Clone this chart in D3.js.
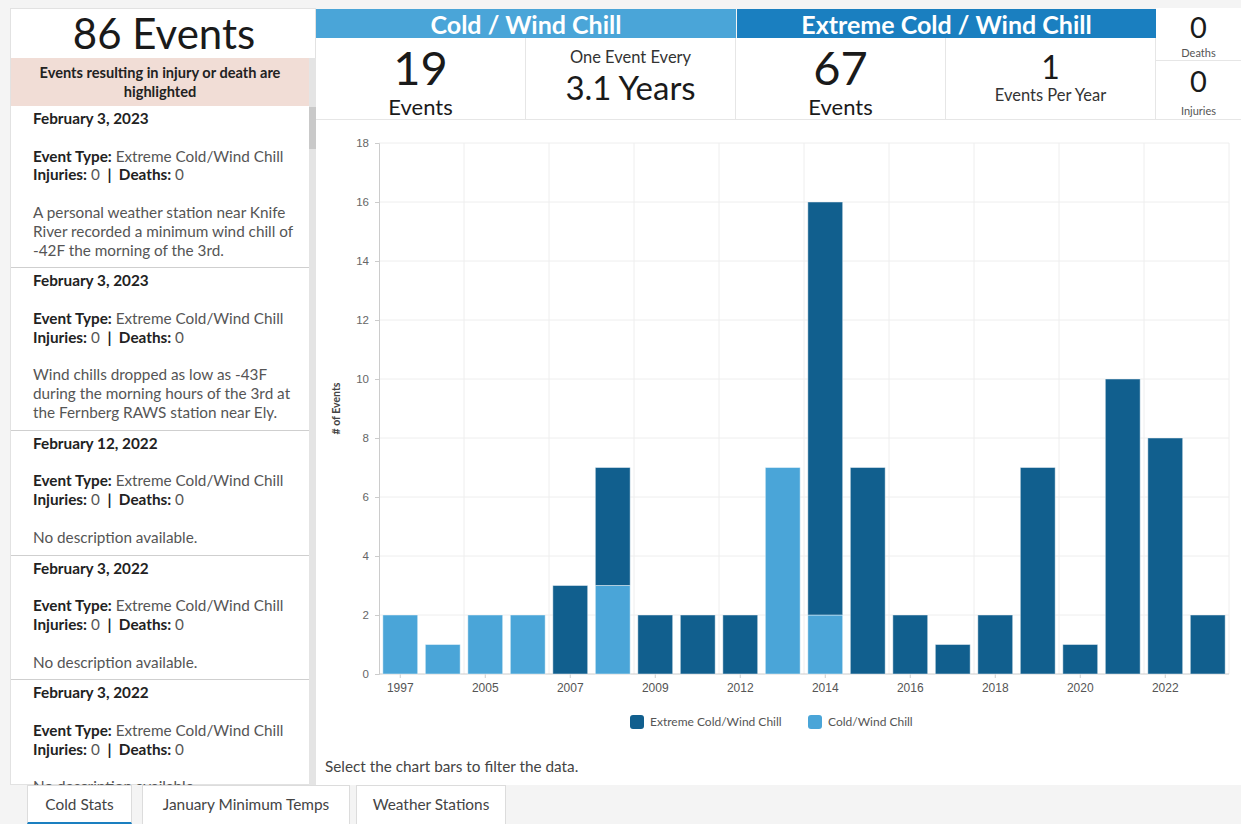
<!DOCTYPE html>
<html>
<head>
<meta charset="utf-8">
<script src="https://cdn.jsdelivr.net/npm/d3@7"></script>
<style>
  body { margin: 0; width: 1241px; height: 824px; background: #f4f4f4; font-family: Lato, "Open Sans", sans-serif; overflow: hidden; position: relative; color: #1a1a1a; }
  .abs { position: absolute; box-sizing: border-box; }
  .left { left: 10px; top: 8px; width: 306px; height: 777px; background: #fff; border: 1px solid #e2e2e2; }
  .total { left: 0; top: 0; width: 306px; height: 49px; text-align: center; font-size: 42px; line-height: 52px; margin-top: -2px; }
  .note { left: 0; top: 49px; width: 298px; height: 48px; background: #f1ddd6; text-align: center; font-size: 14.6px; font-weight: bold; line-height: 19px; padding-top: 5px; color: #222; }
  .sb { left: 298px; top: 49px; width: 8px; height: 728px; background: #e4e4e4; }
  .thumb { left: 298px; top: 98px; width: 8px; height: 42px; background: #c9c9c9; }
  .list { left: 0; top: 97px; width: 298px; height: 680px; overflow: hidden; }
  .item { border-bottom: 1px solid #cfcfcf; padding: 3px 6px 8px 22px; font-size: 15.3px; line-height: 18.8px; color: #555; }
  .item b { color: #222; }
  .tabs { left: 0; top: 785px; width: 1241px; height: 39px; background: #f4f4f4; }
  .tab { top: 0; height: 39px; background: #fff; border: 1px solid #dcdcdc; border-bottom: none; text-align: center; font-size: 15.4px; line-height: 37px; color: #444; }
  .hdr { top: 9px; height: 29px; color: #fff; font-weight: bold; font-size: 25px; text-align: center; line-height: 30px; }
  .cell { top: 38px; height: 82px; background: #fff; border-right: 1px solid #e6e6e6; border-bottom: 1px solid #e6e6e6; text-align: center; }
</style>
</head>
<body>
<div id="page"></div>
<script>
// chart data
const years = ['1997', '2001', '2005', '2006', '2007', '2008', '2009', '2011', '2012', '2013',
  '2014', '2015', '2016', '2017', '2018', '2019', '2020', '2021', '2022', '2023'];
const coldWindChill = [2, 1, 2, 2, 0, 3, 0, 0, 0, 7, 2, 0, 0, 0, 0, 0, 0, 0, 0, 0];
const extremeColdWindChill = [0, 0, 0, 0, 3, 4, 2, 2, 2, 0, 14, 7, 2, 1, 2, 7, 1, 10, 8, 2];
const seriesNames = ['Extreme Cold/Wind Chill', 'Cold/Wind Chill'];
const yTicks = [0, 2, 4, 6, 8, 10, 12, 14, 16, 18];

// event list
const eventDates = ['February 3, 2023', 'February 3, 2023', 'February 12, 2022', 'February 3, 2022', 'February 3, 2022'];
const eventDescriptions = [
  'A personal weather station near Knife River recorded a minimum wind chill of -42F the morning of the 3rd.',
  'Wind chills dropped as low as -43F during the morning hours of the 3rd at the Fernberg RAWS station near Ely.',
  'No description available.',
  'No description available.',
  'No description available.'
];
const tabNames = ['Cold Stats', 'January Minimum Temps', 'Weather Stations'];

const colors = { extreme: '#115f8e', cold: '#4aa5d8', hdrCold: '#4aa5d8', hdrExtreme: '#1a7fc0' };

const page = d3.select('#page');

//======== left panel ========//
const left = page.append('div').attr('class', 'abs left');
left.append('div').attr('class', 'abs total').text('86 Events');
left.append('div').attr('class', 'abs note').html('Events resulting in injury or death are<br>highlighted');
left.append('div').attr('class', 'abs sb');
left.append('div').attr('class', 'abs thumb');
left.append('div').attr('class', 'abs list')
  .selectAll('div')
  .data(eventDates)
  .join('div')
  .attr('class', 'item')
  .html((d, i) => `<b>${d}</b><br><br><b>Event Type:</b> Extreme Cold/Wind Chill<br>`
    + `<b>Injuries:</b> 0 <b>&nbsp;|&nbsp; Deaths:</b> 0<br><br>${eventDescriptions[i]}`);

//======== tabs ========//
const tabs = page.append('div').attr('class', 'abs tabs');
const tabX = [27, 142, 356];
const tabW = [105, 208, 150];
tabs.selectAll('div')
  .data(tabNames)
  .join('div')
  .attr('class', 'abs tab')
  .style('left', (d, i) => tabX[i] + 'px')
  .style('width', (d, i) => tabW[i] + 'px')
  .style('border-bottom', (d, i) => i === 0 ? '2px solid #1a7fc0' : 'none')
  .text(d => d);

//======== header stats ========//
page.append('div').attr('class', 'abs hdr').style('left', '316px').style('width', '420px')
  .style('background', colors.hdrCold).text('Cold / Wind Chill');
page.append('div').attr('class', 'abs hdr').style('left', '737px').style('width', '419px')
  .style('background', colors.hdrExtreme).text('Extreme Cold / Wind Chill');

const cells = [
  { x: 316, w: 210, html: '<div style="font-size:47px;line-height:42px;margin-top:8px">19</div><div style="font-size:22px;line-height:24px;margin-top:7px">Events</div>' },
  { x: 526, w: 210, html: '<div style="font-size:16.5px;color:#333;line-height:18px;margin-top:10px">One Event Every</div><div style="font-size:33px;line-height:36px;margin-top:3px">3.1 Years</div>' },
  { x: 736, w: 210, html: '<div style="font-size:47px;line-height:42px;margin-top:8px">67</div><div style="font-size:22px;line-height:24px;margin-top:7px">Events</div>' },
  { x: 946, w: 210, html: '<div style="font-size:32px;line-height:34px;margin-top:12px">1</div><div style="font-size:16.5px;color:#333;line-height:18px;margin-top:2px">Events Per Year</div>' }
];
page.selectAll('div.cell')
  .data(cells)
  .join('div')
  .attr('class', 'abs cell')
  .style('left', d => d.x + 'px')
  .style('width', d => d.w + 'px')
  .html(d => d.html);

const side = page.append('div').attr('class', 'abs')
  .style('left', '1156px').style('top', '8px').style('width', '85px').style('height', '112px')
  .style('background', '#fff').style('border-bottom', '1px solid #e6e6e6');
side.append('div').attr('class', 'abs').style('left', '0').style('top', '0').style('width', '85px').style('height', '53px')
  .style('border-bottom', '1px solid #e6e6e6').style('text-align', 'center')
  .html('<div style="font-size:29px;line-height:32px;margin-top:3px">0</div><div style="font-size:11px;color:#555;line-height:12px;margin-top:4px">Deaths</div>');
side.append('div').attr('class', 'abs').style('left', '0').style('top', '53px').style('width', '85px').style('height', '58px')
  .style('text-align', 'center')
  .html('<div style="font-size:29px;line-height:32px;margin-top:4px">0</div><div style="font-size:11px;color:#555;line-height:12px;margin-top:8px">Injuries</div>');

//======== chart ========//
const W = 925, H = 665;
const svg = page.append('svg').attr('class', 'abs')
  .style('left', '316px').style('top', '120px')
  .attr('width', W).attr('height', H)
  .style('background', '#fff')
  .style('font-family', 'Lato, "Open Sans", sans-serif');

const m = { left: 63, right: 12, top: 23, bottom: 111 };

const x = d3.scaleBand()
  .domain(years)
  .range([m.left, W - m.right])
  .paddingInner(0.18)
  .paddingOuter(0.09);

const y = d3.scaleLinear()
  .domain([0, 18])
  .range([H - m.bottom, m.top]);

// grid
const grid = svg.append('g');
grid.selectAll('line.h')
  .data(yTicks.slice(1))
  .join('line')
  .attr('x1', m.left).attr('x2', W - m.right)
  .attr('y1', d => y(d)).attr('y2', d => y(d))
  .attr('stroke', '#eeeeee');
grid.selectAll('line.v')
  .data(d3.range(2, years.length + 1, 2))
  .join('line')
  .attr('x1', d => m.left + d * (W - m.left - m.right) / years.length)
  .attr('x2', d => m.left + d * (W - m.left - m.right) / years.length)
  .attr('y1', m.top).attr('y2', H - m.bottom)
  .attr('stroke', '#eeeeee');

// y axis
const yAxis = svg.append('g')
  .attr('transform', `translate(${m.left},0)`)
  .call(d3.axisLeft(y).tickValues(yTicks).tickSize(4).tickPadding(6));
yAxis.select('.domain').attr('stroke', '#cccccc');
yAxis.selectAll('.tick line').attr('stroke', '#cccccc');
yAxis.selectAll('.tick text').attr('fill', '#666').style('font-size', '11.5px');

// x axis
const xAxis = svg.append('g')
  .attr('transform', `translate(0,${H - m.bottom})`)
  .call(d3.axisBottom(x).tickValues(years.filter((d, i) => i % 2 === 0)).tickSize(4).tickPadding(5));
xAxis.select('.domain').attr('stroke', '#cccccc').attr('d', `M${m.left},0H${W - m.right}`);
xAxis.selectAll('.tick line').attr('stroke', '#cccccc');
xAxis.selectAll('.tick text').attr('fill', '#555').style('font-size', '12px');

svg.append('text')
  .attr('transform', `translate(24,${(m.top + H - m.bottom) / 2}) rotate(-90)`)
  .attr('text-anchor', 'middle')
  .style('font-size', '10.5px')
  .style('font-weight', 'bold')
  .attr('fill', '#444')
  .text('# of Events');

// stacked bars: cold at bottom, extreme on top
const rows = years.map((yr, i) => ({ year: yr, cold: coldWindChill[i], extreme: extremeColdWindChill[i] }));
const stack = d3.stack().keys(['cold', 'extreme'])(rows);

svg.append('g')
  .selectAll('g')
  .data(stack)
  .join('g')
  .attr('fill', d => colors[d.key])
  .selectAll('rect')
  .data(d => d.filter(v => v[1] > v[0]))
  .join('rect')
  .attr('x', d => x(d.data.year))
  .attr('y', d => y(d[1]))
  .attr('width', x.bandwidth())
  .attr('height', d => y(d[0]) - y(d[1]))
  .attr('stroke', 'rgba(255,255,255,0.45)')
  .attr('stroke-width', 1);

// legend
const legendX = [314, 492];
const legendColors = [colors.extreme, colors.cold];
const legend = svg.append('g')
  .selectAll('g')
  .data(seriesNames)
  .join('g')
  .attr('transform', (d, i) => `translate(${legendX[i]},602)`);
legend.append('rect')
  .attr('width', 14).attr('height', 14).attr('y', -7).attr('rx', 3)
  .attr('fill', (d, i) => legendColors[i]);
legend.append('text')
  .attr('x', 20).attr('dy', '0.35em')
  .style('font-size', '12px')
  .attr('fill', '#555')
  .text(d => d);

svg.append('text')
  .attr('x', 9).attr('y', 652)
  .style('font-size', '15.3px')
  .attr('fill', '#444')
  .text('Select the chart bars to filter the data.');
</script>
</body>
</html>
